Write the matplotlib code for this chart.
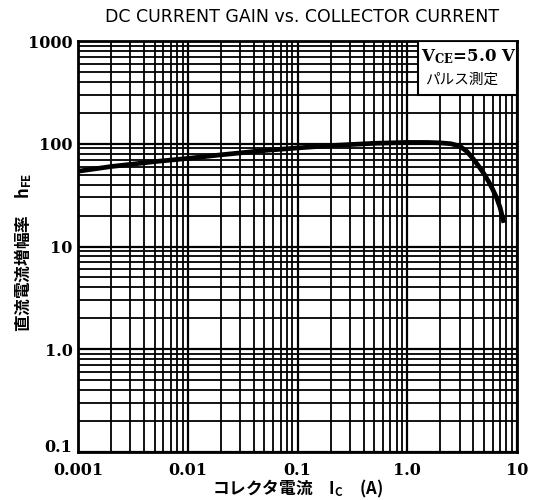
import matplotlib
matplotlib.use("Agg")
import matplotlib.pyplot as plt
from matplotlib.patches import Rectangle
from matplotlib.ticker import FixedLocator, FixedFormatter, NullFormatter
import matplotlib.transforms as mtransforms

plt.rcParams['mathtext.fontset'] = 'dejavuserif'

# Data
ic = [0.001, 0.002, 0.005, 0.01, 0.02, 0.05, 0.1, 0.2, 0.5, 1.0, 1.5, 2.0,
      2.5, 3.0, 3.5, 4.0, 4.5, 5.0, 5.5, 6.0, 6.5, 7.0, 7.6]
hfe = [54, 60, 67, 72, 78, 86, 91, 96, 101, 103, 103, 102,
       100, 95, 84, 71, 60, 51, 43, 36, 30, 24, 17]

x_ticks = [0.001, 0.01, 0.1, 1.0, 10]
x_labels = ["0.001", "0.01", "0.1", "1.0", "10"]
y_ticks = [0.1, 1.0, 10, 100, 1000]
y_labels = ["0.1", "1.0", "10", "100", "1000"]

title = "DC CURRENT GAIN vs. COLLECTOR CURRENT"
xlabel = "コレクタ電流　I$_\\mathregular{C}$　(A)"
ylabel = "直流電流増幅率　h$_\\mathregular{FE}$"

fig = plt.figure(figsize=(5.36, 5.0), dpi=100)
ax = fig.add_axes([0.1455, 0.096, 0.8191, 0.822])
ax.set_xscale('log')
ax.set_yscale('log')
ax.set_xlim(0.001, 10)
ax.set_ylim(0.1, 1000)

# grid lines
minor_x = [m * 10.0**e for e in range(-3, 1) for m in range(2, 10)]
minor_y = [m * 10.0**e for e in range(-1, 3) for m in range(2, 10)]
ax.xaxis.set_major_locator(FixedLocator(x_ticks))
ax.xaxis.set_major_formatter(FixedFormatter(x_labels))
ax.yaxis.set_major_locator(FixedLocator(y_ticks))
ax.yaxis.set_major_formatter(FixedFormatter(y_labels))
ax.xaxis.set_minor_locator(FixedLocator(minor_x))
ax.yaxis.set_minor_locator(FixedLocator(minor_y))
ax.xaxis.set_minor_formatter(NullFormatter())
ax.yaxis.set_minor_formatter(NullFormatter())
ax.grid(True, which='major', color='black', linewidth=1.6)
ax.grid(True, which='minor', color='black', linewidth=1.3)
ax.tick_params(axis='x', which='both', length=0, pad=7)
ax.tick_params(axis='y', which='both', length=0, pad=4)
for lab in ax.get_xticklabels() + ax.get_yticklabels():
    lab.set_fontfamily(['DejaVu Serif'])
    lab.set_fontweight('bold')
    lab.set_fontsize(11.5)
# lift the lowest y label slightly, as in the reference
low = ax.get_yticklabels()[0]
low.set_transform(low.get_transform() +
                  mtransforms.ScaledTranslation(0, 6 / 100, fig.dpi_scale_trans))
for s in ax.spines.values():
    s.set_linewidth(2)
    s.set_color('black')

ax.plot(ic, hfe, color='black', linewidth=3.4, solid_capstyle='butt', zorder=5)

# legend-like box
ax.add_patch(Rectangle((0.774, 0.869), 0.226, 0.131, transform=ax.transAxes,
                       facecolor='white', edgecolor='black', linewidth=1.5, zorder=6))
ax.text(0.89, 0.963, "V$_\\mathregular{CE}$=5.0 V", transform=ax.transAxes,
        ha='center', va='center', fontsize=12, fontweight='bold',
        family=['DejaVu Serif'], zorder=7)
ax.text(0.873, 0.905, "パルス測定", transform=ax.transAxes,
        ha='center', va='center', fontsize=10.5,
        family=['Noto Sans CJK JP', 'DejaVu Sans'], zorder=7)

fig.text(0.564, 0.966, title, ha='center', va='center', fontsize=12.5,
         family=['DejaVu Sans', 'Liberation Sans'])
ax.set_xlabel(xlabel, fontsize=12, family=['Noto Sans CJK JP', 'DejaVu Sans'],
              fontweight='bold')
ax.xaxis.set_label_coords(0.5, -0.064)
ax.set_ylabel(ylabel, fontsize=12, family=['Noto Sans CJK JP', 'DejaVu Sans'],
              fontweight='bold')
ax.yaxis.set_label_coords(-0.10, 0.485)

fig.savefig("out.png", dpi=100)
